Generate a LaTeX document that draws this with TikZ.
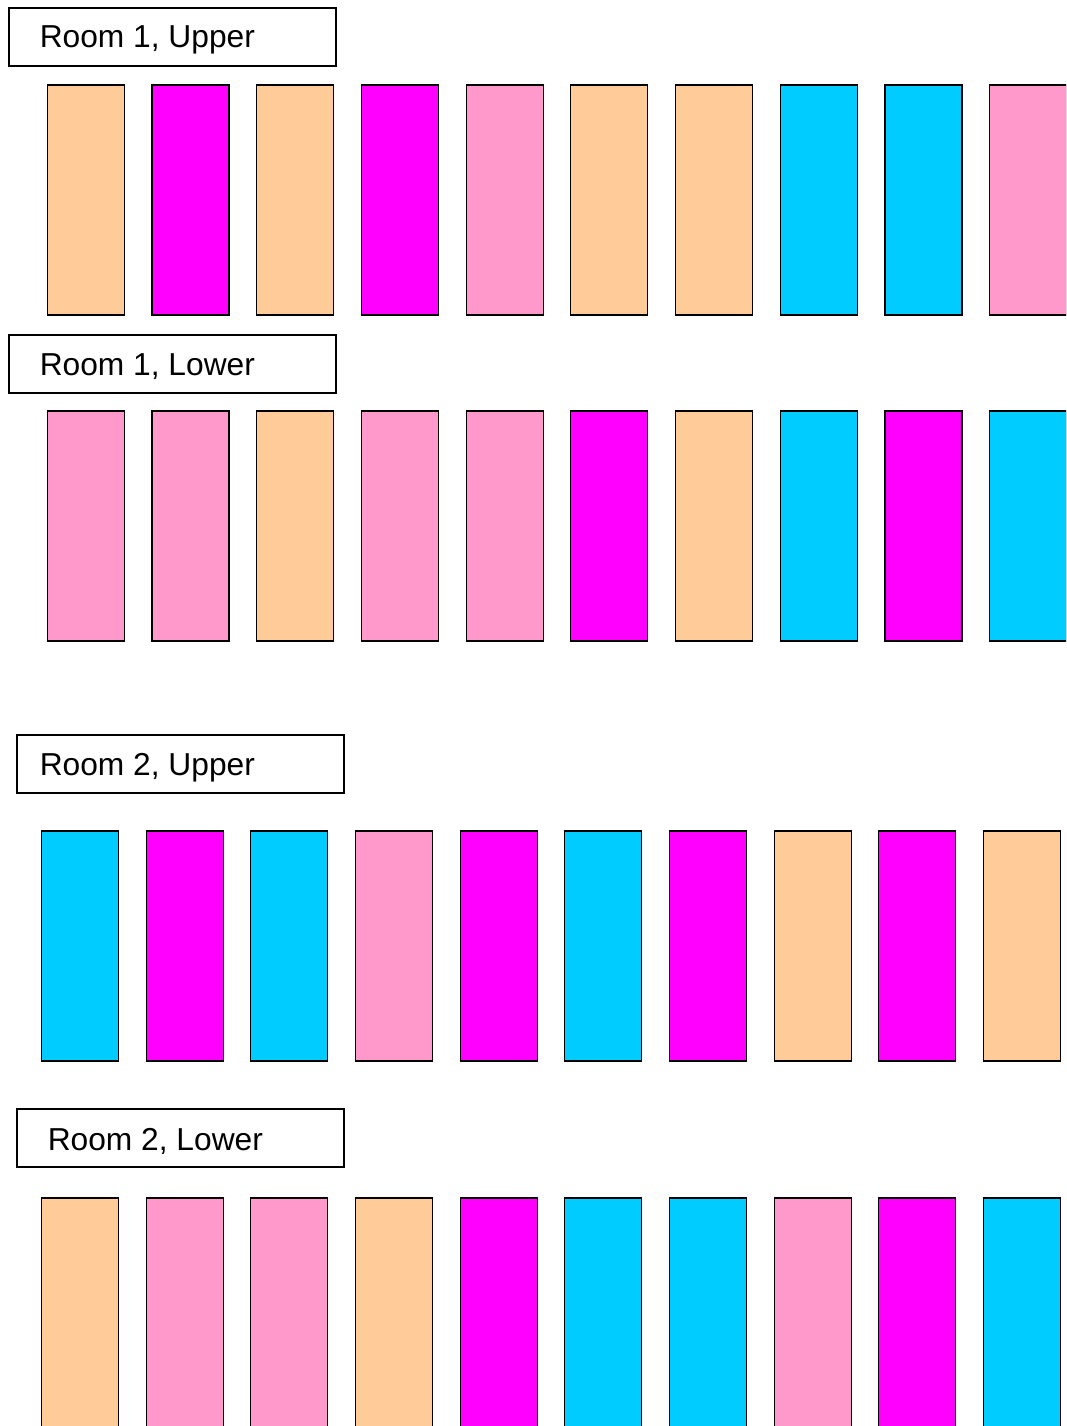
\documentclass[tikz,border=0pt]{standalone}
\usepackage{fontspec}
\setmainfont{Liberation Sans}
\definecolor{peach}{HTML}{FFCC99}
\definecolor{mag}{HTML}{FF00FF}
\definecolor{pinkk}{HTML}{FF99CC}
\definecolor{cyann}{HTML}{00CCFF}
\begin{document}
\begin{tikzpicture}[x=0.75pt,y=-0.75pt,
  bar/.style={draw=black,line width=0.9pt,minimum width=57.75pt,minimum height=172.5pt,inner sep=0pt,anchor=north west,outer sep=0pt},
  labbox/.style={draw=black,line width=0.9pt,minimum width=245.25pt,minimum height=43.5pt,inner sep=0pt,anchor=north west,outer sep=0pt},
  labtext/.style={anchor=base west,inner sep=0pt,font=\fontsize{23.8}{28}\selectfont}]
\useasboundingbox (0,0) rectangle (1066,1426);
\clip (0,0) rectangle (1066,1426);
% labels
\node[labbox] (b1) at (9,8) {};
\node[labtext] (t1) at (39.5,48) {Room 1, Upper};
\node[labbox] (b2) at (9,335) {};
\node[labtext] (t2) at (39.5,375) {Room 1, Lower};
\node[labbox] (b3) at (17,735) {};
\node[labtext] (t3) at (39.5,775) {Room 2, Upper};
\node[labbox] (b4) at (17,1109) {};
\node[labtext] (t4) at (47.5,1150) {Room 2, Lower};
% row 1
\foreach \c [count=\i from 0] in {peach,mag,peach,mag,pinkk,peach,peach,cyann,cyann,pinkk}
  \node[bar,fill=\c] (ra\i) at ({47.3+104.7*\i},85) {};
% row 2
\foreach \c [count=\i from 0] in {pinkk,pinkk,peach,pinkk,pinkk,mag,peach,cyann,mag,cyann}
  \node[bar,fill=\c] (rb\i) at ({47.3+104.7*\i},411) {};
% row 3
\foreach \c [count=\i from 0] in {cyann,mag,cyann,pinkk,mag,cyann,mag,peach,mag,peach}
  \node[bar,fill=\c] (rc\i) at ({41.5+104.67*\i},831) {};
% row 4
\foreach \c [count=\i from 0] in {peach,pinkk,pinkk,peach,mag,cyann,cyann,pinkk,mag,cyann}
  \node[bar,fill=\c] (rd\i) at ({41.5+104.67*\i},1198) {};
\end{tikzpicture}
\end{document}
